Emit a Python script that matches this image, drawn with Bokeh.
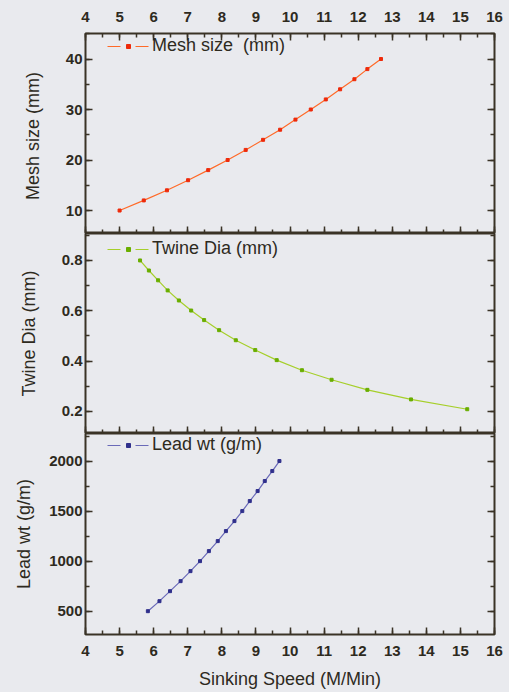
from bokeh.plotting import figure
from bokeh.models import Range1d, LinearAxis, SingleIntervalTicker, ColumnDataSource, Legend, LegendItem
from bokeh.layouts import column
from bokeh.embed import file_html
from bokeh.resources import INLINE

# ---- data ----
mesh_speed = [5.00, 5.71, 6.39, 7.01, 7.60, 8.17, 8.70, 9.21, 9.71, 10.16, 10.61, 11.05, 11.47, 11.89, 12.27, 12.67]
mesh_size = [10, 12, 14, 16, 18, 20, 22, 24, 26, 28, 30, 32, 34, 36, 38, 40]

twine_speed = [5.60, 5.86, 6.13, 6.41, 6.74, 7.10, 7.48, 7.92, 8.41, 8.98, 9.61, 10.35, 11.22, 12.27, 13.55, 15.20]
twine_dia = [0.800, 0.760, 0.721, 0.681, 0.641, 0.601, 0.563, 0.523, 0.483, 0.444, 0.404, 0.364, 0.326, 0.286, 0.248, 0.209]

lead_speed = [5.83, 6.17, 6.48, 6.79, 7.08, 7.36, 7.62, 7.88, 8.12, 8.37, 8.60, 8.82, 9.05, 9.26, 9.48, 9.69]
lead_wt = [500, 600, 700, 800, 900, 1000, 1100, 1200, 1300, 1400, 1500, 1600, 1700, 1800, 1900, 2000]

mesh_label = "Mesh size  (mm)"
twine_label = "Twine Dia (mm)"
lead_label = "Lead wt (g/m)"
x_label = "Sinking Speed (M/Min)"

BG = "#e9eaee"
INK = "#2e2a1e"
FRAME = "#3a3326"
FONT = "Liberation Sans"

W = 509
xr = Range1d(4, 16)


def base_fig(h, yr, top, bottom):
    p = figure(width=W, height=h, x_range=xr, y_range=yr, output_backend="svg",
               toolbar_location=None, x_axis_location=None, y_axis_location=None,
               min_border_left=85, min_border_right=15, min_border_top=top, min_border_bottom=bottom)
    p.background_fill_color = BG
    p.border_fill_color = BG
    p.outline_line_color = FRAME
    p.outline_line_width = 2
    p.grid.grid_line_color = None
    return p


def style_axis(ax, labels=True, size="15px"):
    ax.axis_line_color = None
    ax.major_tick_line_color = FRAME
    ax.minor_tick_line_color = FRAME
    ax.major_tick_line_width = 1.5
    ax.minor_tick_line_width = 1.5
    ax.major_tick_out = 0
    ax.minor_tick_out = 0
    ax.major_tick_in = 7
    ax.minor_tick_in = 4
    if labels:
        ax.major_label_text_font = FONT
        ax.major_label_text_font_size = size
        ax.major_label_text_font_style = "bold"
        ax.major_label_text_color = INK
    else:
        ax.major_label_text_font_size = "1px"
        ax.major_label_text_color = None
        ax.major_label_standoff = 0
    ax.axis_label_text_font = FONT
    ax.axis_label_text_font_size = "18px"
    ax.axis_label_text_font_style = "normal"
    ax.axis_label_text_color = INK


def add_y_axes(p, interval, title, title_standoff):
    left = LinearAxis(ticker=SingleIntervalTicker(interval=interval, num_minor_ticks=2), axis_label=title)
    style_axis(left)
    left.major_label_standoff = 3
    left.axis_label_standoff = title_standoff
    p.add_layout(left, "left")
    right = LinearAxis(ticker=SingleIntervalTicker(interval=interval, num_minor_ticks=2))
    style_axis(right, labels=False)
    p.add_layout(right, "right")


def add_x_axis(p, side, labels, title=None):
    ax = LinearAxis(ticker=SingleIntervalTicker(interval=1, num_minor_ticks=2), axis_label=title)
    style_axis(ax, labels=labels)
    if labels:
        ax.major_label_standoff = 11 if side == "below" else 12
    ax.axis_label_standoff = 10
    p.add_layout(ax, side)


def add_series(p, xs, ys, line_color, mark_color, label, frame_h, offset):
    src = ColumnDataSource(dict(x=xs, y=ys))
    p.line("x", "y", source=src, line_color=line_color, line_width=1.2)
    p.scatter("x", "y", source=src, marker="square", size=3,
              fill_color=mark_color, line_color=mark_color)
    # legend-only renderers (hidden in the plot) to get the "- . -" legend symbol
    leg_line = p.line("x", "y", source=src, line_color=line_color, line_width=1.2,
                      line_dash="13 15", visible=False)
    leg_pt = p.scatter("x", "y", source=src, marker="square",
                       fill_color=mark_color, line_color=mark_color, visible=False)
    leg = Legend(items=[LegendItem(label=label, renderers=[leg_line, leg_pt])],
                 location=(22, frame_h - offset - 12), glyph_width=42, glyph_height=10,
                 label_height=10, label_standoff=3, padding=0, margin=0, spacing=0,
                 border_line_color=None, background_fill_alpha=0,
                 label_text_font=FONT, label_text_font_size="18px", label_text_color=INK)
    p.add_layout(leg)


# ---- panel 1: mesh size ----
p1 = base_fig(233, Range1d(5.45, 45.05), 33, 0)
add_y_axes(p1, 10, mesh_label, 20)
add_x_axis(p1, "above", True)
add_x_axis(p1, "below", False)
add_series(p1, mesh_speed, mesh_size, "#ff6a28", "#ee2a0a", mesh_label, 200, 11)

# ---- panel 2: twine dia ----
p2 = base_fig(200, Range1d(0.1126, 0.907), 0, 0)
add_y_axes(p2, 0.2, twine_label, 20)
add_x_axis(p2, "below", False)
add_series(p2, twine_speed, twine_dia, "#a6cf2a", "#6aae00", twine_label, 200, 14)

# ---- panel 3: lead wt ----
p3 = base_fig(259, Range1d(267, 2275), 0, 58)
add_y_axes(p3, 500, lead_label, 12)
add_x_axis(p3, "below", True, x_label)
add_series(p3, lead_speed, lead_wt, "#6a6ab8", "#30308c", lead_label, 201, 10)

layout = column(p1, p2, p3, spacing=0)
layout.background = BG

open("out.html", "w").write(file_html(layout, INLINE))
